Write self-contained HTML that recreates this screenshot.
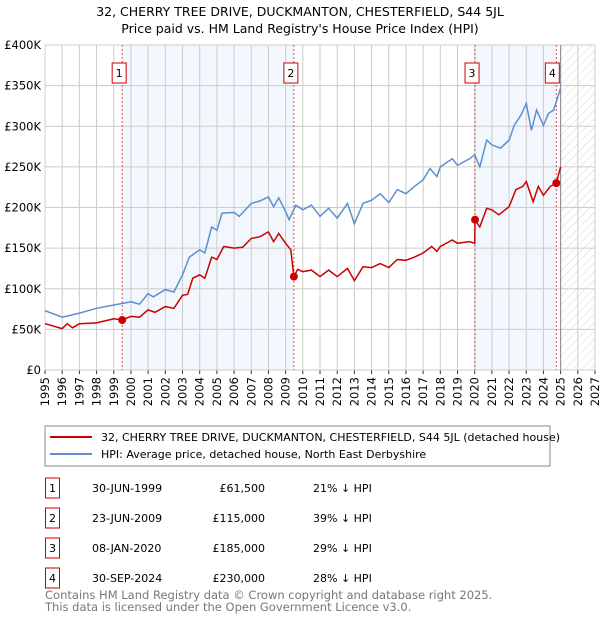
<!DOCTYPE html>
<html><head><meta charset="utf-8"><style>
body{margin:0;background:#fff;width:600px;height:620px;overflow:hidden;font-family:"DejaVu Sans","Liberation Sans",sans-serif;}
svg text{font-family:"DejaVu Sans","Liberation Sans",sans-serif;}
</style></head><body>
<svg id="chart" width="600" height="620" xmlns="http://www.w3.org/2000/svg">
<defs><pattern id="hatch" width="6" height="6" patternUnits="userSpaceOnUse" patternTransform="rotate(45)"><line x1="0" y1="0" x2="0" y2="6" stroke="#d4d4d4" stroke-width="1"/></pattern></defs>
<text x="300" y="16" text-anchor="middle" font-size="12.5">32, CHERRY TREE DRIVE, DUCKMANTON, CHESTERFIELD, S44 5JL</text>
<text x="300" y="33" text-anchor="middle" font-size="12.5">Price paid vs. HM Land Registry's House Price Index (HPI)</text>
<g id="plot"></g>
<rect x="45" y="426" width="505" height="40" fill="#fff" stroke="#888"/>
<line x1="50" y1="437" x2="92" y2="437" stroke="#cc0000" stroke-width="2"/>
<text x="101" y="441" font-size="11">32, CHERRY TREE DRIVE, DUCKMANTON, CHESTERFIELD, S44 5JL (detached house)</text>
<line x1="50" y1="454" x2="92" y2="454" stroke="#5b8fd0" stroke-width="2"/>
<text x="101" y="458" font-size="11">HPI: Average price, detached house, North East Derbyshire</text>
<g id="table" font-size="11"></g>
<text x="45" y="599" font-size="11.5" fill="#777">Contains HM Land Registry data © Crown copyright and database right 2025.</text>
<text x="45" y="611" font-size="11.5" fill="#777">This data is licensed under the Open Government Licence v3.0.</text>
</svg>
<script>
const hpiYears=[1995,1996,1997,1998,1999,2000,2000.5,2001,2001.3,2002,2002.5,2003,2003.4,2004,2004.3,2004.7,2005,2005.3,2006,2006.3,2007,2007.5,2008,2008.3,2008.6,2009,2009.2,2009.6,2010,2010.5,2011,2011.5,2012,2012.6,2013,2013.5,2014,2014.5,2015,2015.5,2016,2016.5,2017,2017.4,2017.8,2018,2018.7,2019,2019.7,2020,2020.3,2020.7,2021,2021.5,2022,2022.3,2022.7,2023,2023.3,2023.6,2024,2024.3,2024.6,2025];
const hpiValues=[73,65,70,76,80,84,81,94,90,99,96,117,139,148,144,176,172,193,194,189,205,208,213,201,212,195,185,203,197,203,189,199,187,205,180,205,209,217,206,222,217,226,234,248,238,250,260,252,260,265,250,283,277,273,283,301,314,328,295,320,301,316,320,347];
const priceYears=[1995,1996,1996.3,1996.6,1997,1998,1999,1999.5,2000,2000.5,2001,2001.4,2002,2002.5,2003,2003.3,2003.6,2004,2004.3,2004.7,2005,2005.4,2006,2006.5,2007,2007.5,2008,2008.3,2008.6,2009,2009.3,2009.48,2009.7,2010,2010.5,2011,2011.5,2012,2012.6,2013,2013.5,2014,2014.5,2015,2015.5,2016,2016.5,2017,2017.5,2017.8,2018,2018.7,2019,2019.7,2020.0,2020.02,2020.3,2020.7,2021,2021.4,2022,2022.4,2022.8,2023,2023.4,2023.7,2024,2024.4,2024.75,2025];
const priceValues=[57,51,57,52,57,58,63,61.5,66,65,74,71,78,76,92,93,113,117,113,139,136,152,150,151,162,164,170,158,168,156,148,115,124,121,123,115,123,115,125,110,127,126,131,126,136,135,139,144,152,146,152,160,156,158,156,185,176,199,197,191,201,222,226,232,207,226,215,226,230,250];
const saleLabels=["1","2","3","4"];
const saleYears=[1999.49,2009.48,2020.02,2024.75];
const saleValues=[61.5,115,185,230];
const saleDates=["30-JUN-1999","23-JUN-2009","08-JAN-2020","30-SEP-2024"];
const salePrices=["£61,500","£115,000","£185,000","£230,000"];
const saleDiffs=["21% ↓ HPI","39% ↓ HPI","29% ↓ HPI","28% ↓ HPI"];
const yTicks=[0,50,100,150,200,250,300,350,400];
const yTickLabels=["£0","£50K","£100K","£150K","£200K","£250K","£300K","£350K","£400K"];
const xTicks=[1995,1996,1997,1998,1999,2000,2001,2002,2003,2004,2005,2006,2007,2008,2009,2010,2011,2012,2013,2014,2015,2016,2017,2018,2019,2020,2021,2022,2023,2024,2025,2026,2027];

const X0=45,X1=595,Y0=370,Y1=45;
const xs=y=>X0+(y-1995)/(2027-1995)*(X1-X0);
const ys=v=>Y0-v/400*(Y0-Y1);
const NS="http://www.w3.org/2000/svg";
const plot=document.getElementById('plot');
function mk(tag,attrs,parent){const e=document.createElementNS(NS,tag);for(const k in attrs)e.setAttribute(k,attrs[k]);(parent||plot).appendChild(e);return e;}
let s=mk('rect',{x:xs(saleYears[0]),y:Y1,width:xs(saleYears[1])-xs(saleYears[0]),height:Y0-Y1,fill:'#eef3fc',opacity:0.75});


s=mk('rect',{x:xs(saleYears[2]),y:Y1,width:xs(saleYears[3])-xs(saleYears[2]),height:Y0-Y1,fill:'#eef3fc',opacity:0.75});


s=mk('rect',{x:xs(2025),y:Y1,width:X1-xs(2025),height:Y0-Y1,fill:'url(#hatch)'});


yTicks.forEach((v,i)=>{
 mk('line',{x1:X0,x2:X1,y1:ys(v),y2:ys(v),stroke:'#ccc','stroke-width':1});
 const t=mk('text',{x:X0-4,y:ys(v)+4,'text-anchor':'end','font-size':11.5});
 t.textContent=yTickLabels[i];
 
 
});
xTicks.forEach(yr=>{
 mk('line',{x1:xs(yr),x2:xs(yr),y1:Y1,y2:Y0,stroke:'#ccc','stroke-width':1});
 mk('line',{x1:xs(yr),x2:xs(yr),y1:Y0,y2:Y0+4,stroke:'#333','stroke-width':1});
 const t=mk('text',{x:0,y:0,'text-anchor':'end','font-size':11.5,transform:`translate(${xs(yr)+4},${Y0+7}) rotate(-90)`});
 t.textContent=yr;
 
 
});
mk('rect',{x:X0,y:Y1,width:X1-X0,height:Y0-Y1,fill:'none',stroke:'#ccc'});
mk('line',{x1:xs(2025),x2:xs(2025),y1:Y1,y2:Y0,stroke:'#888','stroke-width':1});
saleYears.forEach((yr,i)=>{
 mk('line',{x1:xs(yr),x2:xs(yr),y1:Y1,y2:Y0,stroke:'#e05050','stroke-width':1,'stroke-dasharray':'2,2'});
});
function path(xa,va){return xa.map((y,i)=>(i?'L':'M')+xs(y).toFixed(1)+','+ys(va[i]).toFixed(1)).join('');}
let l=mk('path',{d:path(hpiYears,hpiValues),fill:'none',stroke:'#5b8fd0','stroke-width':1.5});


l=mk('path',{d:path(priceYears,priceValues),fill:'none',stroke:'#cc0000','stroke-width':1.5});


saleYears.forEach((yr,i)=>{
 const c=mk('circle',{cx:xs(yr),cy:ys(saleValues[i]),r:4,fill:'#cc0000'});
 
 
 const bx=xs(yr)-(i==3?4:3);
 const r=mk('rect',{x:bx-7,y:63,width:14,height:20,fill:'#fff',stroke:'#cc0000'});
 
 
 const t=mk('text',{x:bx,y:77,'text-anchor':'middle','font-size':11});
 t.textContent=saleLabels[i];
});
const tb=document.getElementById('table');
const rowY=[488,518,548,578];
saleLabels.forEach((lab,i)=>{
 const y=rowY[i];
 const g=mk('g',{},tb);
 
 
 mk('rect',{x:45.5,y:y-10,width:14,height:20,fill:'#fff',stroke:'#cc0000'},g);
 let t=mk('text',{x:52.5,y:y+4,'text-anchor':'middle'},g);t.textContent=lab;
 t=mk('text',{x:92,y:y+4},g);t.textContent=saleDates[i];
 t=mk('text',{x:265,y:y+4,'text-anchor':'end'},g);t.textContent=salePrices[i];
 t=mk('text',{x:313,y:y+4},g);t.textContent=saleDiffs[i];
});
</script>
</body></html>
